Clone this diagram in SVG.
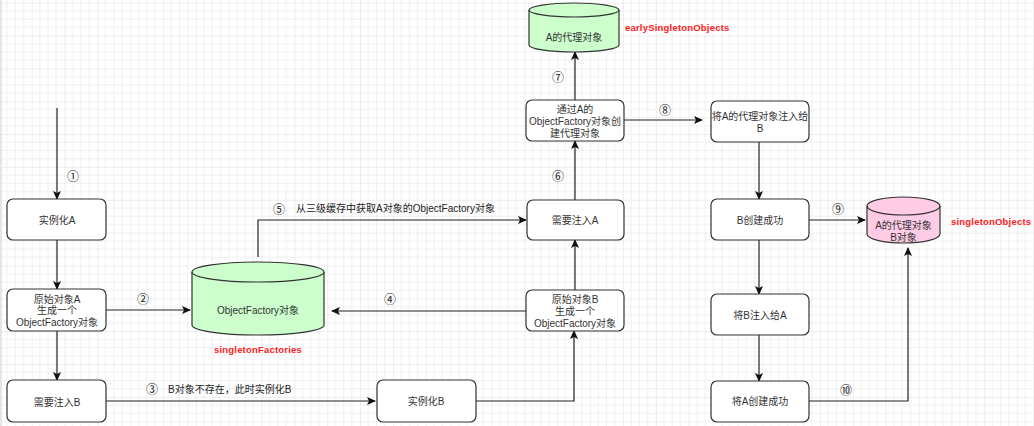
<svg xmlns="http://www.w3.org/2000/svg" width="1034" height="426" viewBox="0 0 1034 426">
<defs>
<pattern id="grid" x="-1.2" y="2.7" width="32.85" height="32.85" patternUnits="userSpaceOnUse">
<path d="M8.21,0V32.85M16.42,0V32.85M24.64,0V32.85M0,8.21H32.85M0,16.42H32.85M0,24.64H32.85" stroke="#f0f0f0" stroke-width="1" fill="none"/>
<path d="M0,0V32.85M0,0H32.85" stroke="#dedede" stroke-width="1" fill="none"/>
</pattern>
<marker id="arr" markerWidth="10" markerHeight="8" refX="8" refY="4" orient="auto" markerUnits="userSpaceOnUse">
<path d="M0,0 L9,4 L0,8 L2,4 Z" fill="#111"/>
</marker>
</defs>
<style>
.box{fill:#fff;stroke:#333;stroke-width:1.2}
.t{font-family:"Liberation Sans","Noto Sans CJK SC",sans-serif;font-size:10px;fill:#333;text-anchor:middle;dominant-baseline:central}
.l{font-family:"Liberation Sans","Noto Sans CJK SC",sans-serif;font-size:10px;fill:#222;dominant-baseline:central}
.n{font-family:"Noto Sans CJK SC","DejaVu Sans",sans-serif;font-size:12px;fill:#222;text-anchor:middle;dominant-baseline:central}
.red{font-family:"Liberation Sans",sans-serif;font-size:9.5px;font-weight:bold;fill:#ff2020;dominant-baseline:central;letter-spacing:0.2px}
.c{fill:none;stroke:#222;stroke-width:1.2;marker-end:url(#arr)}
.cyl{stroke:#333;stroke-width:1.2}
</style>
<rect width="1034" height="426" fill="#fff"/>
<rect width="1034" height="426" fill="url(#grid)"/>
<rect x="0" y="0" width="2" height="426" fill="#e6e6e0"/>

<g id="connectors">
<path class="c" d="M57,108V199"/>
<path class="c" d="M57,240V289"/>
<path class="c" d="M57,331V380"/>
<path class="c" d="M106,310H190"/>
<path class="c" d="M106,401H375"/>
<path class="c" d="M476,401H574V331"/>
<path class="c" d="M527,311H332"/>
<path class="c" d="M258,257V220H526"/>
<path class="c" d="M575,290V240"/>
<path class="c" d="M575,200V141"/>
<path class="c" d="M575,100V52"/>
<path class="c" d="M624,120H702"/>
<path class="c" d="M759,142V199"/>
<path class="c" d="M809,220H865"/>
<path class="c" d="M759,240V294"/>
<path class="c" d="M759,335V381"/>
<path class="c" d="M809,401H908V248"/>
<text class="n" x="73" y="175">①</text>
<text class="n" x="143" y="298">②</text>
<text class="n" x="152" y="388">③</text>
<text class="l" x="168" y="389">B对象不存在，此时实例化B</text>
<text class="n" x="390" y="298">④</text>
<text class="n" x="279" y="208">⑤</text>
<text class="l" x="296" y="208">从三级缓存中获取A对象的ObjectFactory对象</text>
<text class="n" x="558" y="175">⑥</text>
<text class="n" x="558" y="76">⑦</text>
<text class="n" x="665" y="109">⑧</text>
<text class="n" x="838" y="208">⑨</text>
<text class="n" x="846" y="389">⑩</text>
</g>

<g id="instA">
<rect class="box" x="7" y="199" width="99" height="41" rx="6"/>
<text class="t" x="57" y="220">实例化A</text>
</g>
<g id="rawA">
<rect class="box" x="7" y="289" width="99" height="42" rx="6"/>
<text class="t" x="57" y="299">原始对象A</text>
<text class="t" x="57" y="310.5">生成一个</text>
<text class="t" x="57" y="322">ObjectFactory对象</text>
</g>
<g id="needB">
<rect class="box" x="7" y="380" width="99" height="42" rx="6"/>
<text class="t" x="57" y="402">需要注入B</text>
</g>
<g id="factories">
<path class="cyl" fill="#ccffcc" d="M192,272 A66,10 0 0,1 324,272 L324,325 A66,10 0 0,1 192,325 Z"/>
<path class="cyl" fill="none" d="M192,272 A66,10 0 0,0 324,272"/>
<text class="t" x="258" y="310">ObjectFactory对象</text>
<text class="red" x="258" y="349" text-anchor="middle">singletonFactories</text>
</g>
<g id="instB">
<rect class="box" x="377" y="380" width="99" height="42" rx="6"/>
<text class="t" x="426" y="401">实例化B</text>
</g>
<g id="rawB">
<rect class="box" x="526" y="290" width="98" height="41" rx="6"/>
<text class="t" x="575" y="299">原始对象B</text>
<text class="t" x="575" y="311">生成一个</text>
<text class="t" x="575" y="323">ObjectFactory对象</text>
</g>
<g id="needA">
<rect class="box" x="527" y="200" width="97" height="40" rx="6"/>
<text class="t" x="575" y="220">需要注入A</text>
</g>
<g id="createProxy">
<rect class="box" x="526" y="100" width="98" height="41" rx="6"/>
<text class="t" x="575" y="109">通过A的</text>
<text class="t" x="575" y="121">ObjectFactory对象创</text>
<text class="t" x="575" y="133">建代理对象</text>
</g>
<g id="early">
<path class="cyl" fill="#ccffcc" d="M529,10 A45,7 0 0,1 619,10 L619,45 A45,7 0 0,1 529,45 Z"/>
<path class="cyl" fill="none" d="M529,10 A45,7 0 0,0 619,10"/>
<text class="t" x="574" y="37">A的代理对象</text>
<text class="red" x="625" y="27">earlySingletonObjects</text>
</g>
<g id="injectB">
<rect class="box" x="711" y="101" width="98" height="41" rx="6"/>
<text class="t" x="760" y="116">将A的代理对象注入给</text>
<text class="t" x="760" y="128">B</text>
</g>
<g id="bDone">
<rect class="box" x="711" y="199" width="98" height="41" rx="6"/>
<text class="t" x="760" y="220">B创建成功</text>
</g>
<g id="singletons">
<path class="cyl" fill="#ffcce6" d="M867,206 A36.5,9 0 0,1 940,206 L940,234 A36.5,9 0 0,1 867,234 Z"/>
<path class="cyl" fill="none" d="M867,206 A36.5,9 0 0,0 940,206"/>
<text class="t" x="903.5" y="225">A的代理对象</text>
<text class="t" x="903.5" y="237">B对象</text>
<text class="red" x="951" y="221">singletonObjects</text>
</g>
<g id="injectA">
<rect class="box" x="711" y="294" width="98" height="41" rx="6"/>
<text class="t" x="760" y="315">将B注入给A</text>
</g>
<g id="aDone">
<rect class="box" x="711" y="381" width="98" height="41" rx="6"/>
<text class="t" x="760" y="401">将A创建成功</text>
</g>
</svg>
